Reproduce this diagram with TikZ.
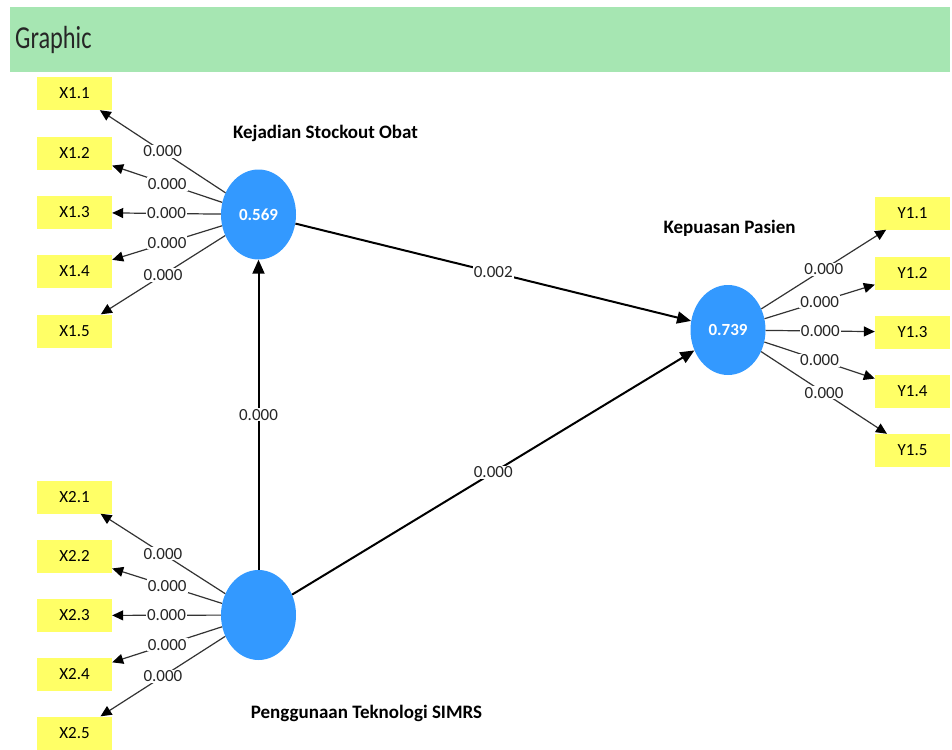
\documentclass[tikz,border=0pt]{standalone}
\usepackage{fontspec}
\usepackage{graphicx}
\setmainfont{Carlito}
\usetikzlibrary{shapes.geometric,arrows.meta}

\definecolor{hdrgreen}{RGB}{166,230,178}
\definecolor{lvblue}{RGB}{51,153,255}
\definecolor{mvyellow}{RGB}{255,255,102}

\tikzset{
  latent/.style={ellipse, fill=lvblue, minimum width=75pt, minimum height=90pt,
    inner sep=0pt, text=white, font=\bfseries\fontsize{17}{19}\selectfont},
  indicator/.style={rectangle, fill=mvyellow, minimum width=75pt, minimum height=33pt,
    inner sep=0pt, font=\fontsize{17}{19}\selectfont},
  lvname/.style={inner sep=0pt, font=\bfseries\fontsize{19}{22}\selectfont},
  loading/.style={draw=black!80, line width=1.2pt,
    -{Triangle[length=11pt,width=10pt,color=black]}},
  structural/.style={draw=black, line width=2pt, -{Triangle[length=14pt,width=12pt]}},
  coef/.style={fill=white, inner sep=1pt, pos=0.5, text=black!85,
    font=\fontsize{17}{19}\selectfont}
}

\begin{document}
\begin{tikzpicture}[x=1pt,y=-1pt]
  \useasboundingbox (0,0) rectangle (952,749);

  % header band
  \fill[hdrgreen] (10,7) rectangle (950,72);
  \node[anchor=west, inner sep=0pt, text=black!85, font=\fontsize{32}{34}\selectfont] (title)
    at (15,40) {\scalebox{0.76}[1]{Graphic}};

  % latent variables
  \node[latent] (kso) at (258.5,214.5) {0.569};
  \node[latent] (kp)  at (728,330) {0.739};
  \node[latent] (pts) at (258.5,615) {};

  \node[lvname] (kso-name) at (325.5,133) {Kejadian Stockout Obat};
  \node[lvname] (kp-name)  at (729.5,228) {Kepuasan Pasien};
  \node[lvname] (pts-name) at (366.5,713) {Penggunaan Teknologi SIMRS};

  % indicators
  \foreach \i/\y in {1/93.5,2/153,3/212.5,4/271.5,5/331}
    \node[indicator] (x1\i) at (74.5,\y) {X1.\i};
  \foreach \i/\y in {1/497,2/556.5,3/615.5,4/674.5,5/733}
    \node[indicator] (x2\i) at (74.5,\y) {X2.\i};
  \foreach \i/\y in {1/213,2/273,3/332,4/391,5/450.5}
    \node[indicator] (y1\i) at (912.5,\y) {Y1.\i};

  % outer loadings
  \foreach \i in {1,...,5} {
    \draw[loading] (kso) -- node[coef] {0.000} (x1\i);
    \draw[loading] (pts) -- node[coef] {0.000} (x2\i);
    \draw[loading] (kp)  -- node[coef] {0.000} (y1\i);
  }

  % inner model
  \draw[structural] (pts) -- node[coef] {0.000} (kso);
  \draw[structural] (kso) -- node[coef] {0.002} (kp);
  \draw[structural] (pts) -- node[coef] {0.000} (kp);
\end{tikzpicture}
\end{document}
